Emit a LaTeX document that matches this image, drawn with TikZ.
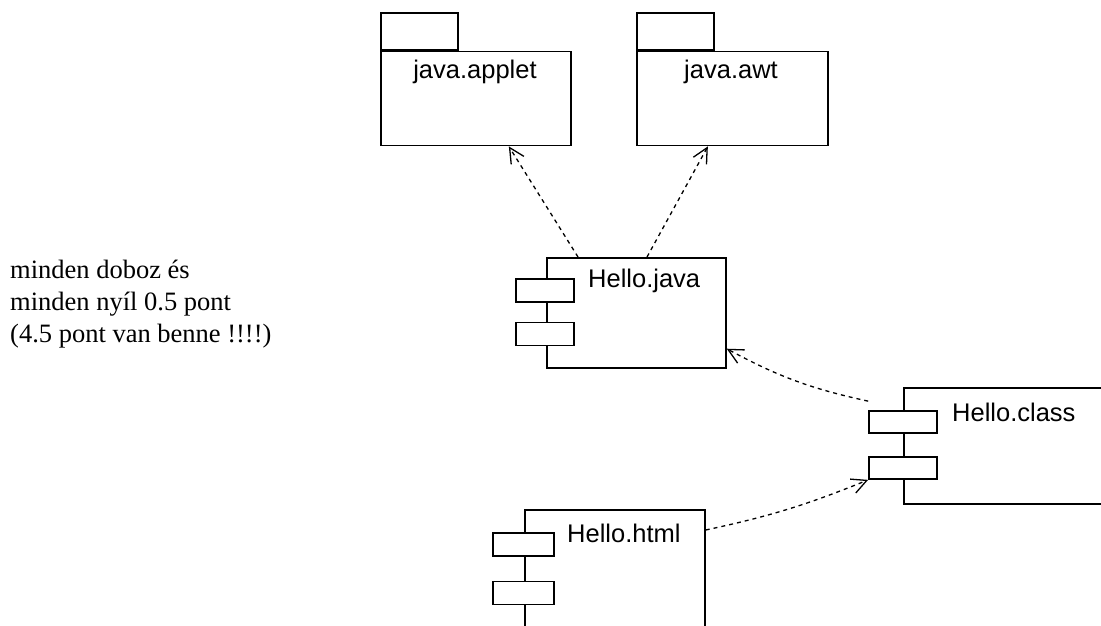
\documentclass[tikz,border=0pt]{standalone}
\usepackage{fontspec}
\setmainfont{Liberation Serif}
\newfontfamily\uifont{Liberation Sans}
\usetikzlibrary{arrows.meta,positioning}
\tikzset{
    pkgtab/.style={
        rectangle, draw=black, line width=1.7pt, fill=white,
        anchor=north west, inner sep=0pt, minimum width=77pt, minimum height=37pt
    },
    pkgbody/.style={
        rectangle, draw=black, line width=1.7pt, fill=white,
        anchor=north west, inner sep=0pt, minimum height=94pt
    },
    compbody/.style={
        rectangle, draw=black, line width=1.7pt, fill=white,
        anchor=north west, inner sep=0pt
    },
    compport/.style={
        rectangle, draw=black, line width=1.7pt, fill=white,
        inner sep=0pt, minimum height=23pt
    },
    uilabel/.style={
        inner sep=0pt, font=\uifont\fontsize{25.5}{30}\selectfont
    },
    deparr/.style={
        -{Straight Barb[length=15pt, width=15pt]}, line width=1.3pt,
        dash pattern=on 4pt off 4pt
    },
}

\begin{document}
\begin{tikzpicture}[x=1pt, y=-1pt]
    \useasboundingbox (0,0) rectangle (1101,625);
    \clip (0,0) rectangle (1101,625);

    % packages
    \node [pkgtab] (applettab) at (380,12) {};
    \node [pkgbody, minimum width=190pt] (applet) at (applettab.south west) {};
    \node [uilabel, anchor=base] (appletname) at (475,78) {java.applet};

    \node [pkgtab] (awttab) at (636,12) {};
    \node [pkgbody, minimum width=191pt] (awt) at (awttab.south west) {};
    \node [uilabel, anchor=base] (awtname) at (731,78) {java.awt};

    % components
    \node [compbody, minimum width=179pt, minimum height=110pt] (hjava) at (546,257) {};
    \node [compport, minimum width=58pt] (jport1) at (545,290.5) {};
    \node [compport, minimum width=58pt] (jport2) at (545,334) {};
    \node [uilabel, anchor=base west] (hjavaname) at (588,287) {Hello.java};

    \node [compbody, minimum width=250pt, minimum height=116pt] (hclass) at (903,387) {};
    \node [compport, minimum width=68pt, minimum height=22pt] (cport1) at (903,422) {};
    \node [compport, minimum width=68pt, minimum height=22pt] (cport2) at (903,468) {};
    \node [uilabel, anchor=base west] (hclassname) at (952,421) {Hello.class};

    \node [compbody, minimum width=180pt, minimum height=140pt] (hhtml) at (524,509) {};
    \node [compport, minimum width=61pt] (hport1) at (523.5,544.5) {};
    \node [compport, minimum width=61pt] (hport2) at (523.5,593) {};
    \node [uilabel, anchor=base west] (hhtmlname) at (567,542) {Hello.html};

    % note
    \node [anchor=base west, align=left, inner sep=0pt,
           font=\fontsize{26.5}{32}\selectfont] (note) at (10,342)
        {minden doboz és\\minden nyíl 0.5 pont\\(4.5 pont van benne !!!!)};

    % dependencies
    \draw [deparr] ([xshift=32pt]hjava.north west) -- ([xshift=33pt]applet.south);
    \draw [deparr] ([xshift=101pt]hjava.north west) -- ([xshift=-24.5pt]awt.south);
    \draw [deparr] ([yshift=9pt]cport1.north west) to[bend left=8] ([yshift=20pt]hjava.south east);
    \draw [deparr] ([yshift=-21pt]hhtml.north east) to[bend right=5] (cport2.south west);

\end{tikzpicture}
\end{document}
